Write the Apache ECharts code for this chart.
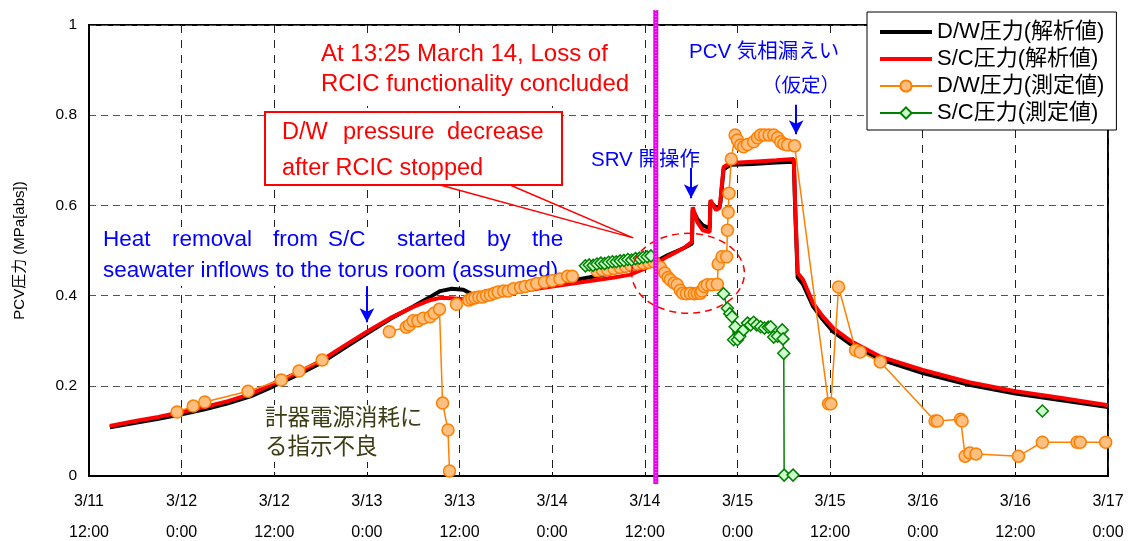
<!DOCTYPE html>
<html>
<head>
<meta charset="utf-8">
<script src="https://cdn.jsdelivr.net/npm/echarts/dist/echarts.min.js"></script>
<style>
html, body { margin: 0; padding: 0; background: #fff; }
#pcvChart { width: 1132px; height: 541px; }
</style>
</head>
<body>
<div id="pcvChart"></div>
<script>
// hours since 3/11 12:00
const dateLabels = ['3/11', '3/12', '3/12', '3/13', '3/13', '3/14', '3/14', '3/15', '3/15', '3/16', '3/16', '3/17']
const timeLabels = ['12:00', '0:00', '12:00', '0:00', '12:00', '0:00', '12:00', '0:00', '12:00', '0:00', '12:00', '0:00']

// D/W圧力(解析値)
const dwCalc = [
  [2.7, 0.108], [6, 0.118], [9, 0.127], [12, 0.137], [15, 0.148], [18, 0.161], [21, 0.177],
  [24, 0.2], [27, 0.224], [30, 0.25], [33, 0.283], [36, 0.316], [39, 0.348], [42, 0.376],
  [44, 0.395], [45.5, 0.41], [47, 0.415], [48.5, 0.413], [49.5, 0.404], [50.5, 0.4], [52, 0.404],
  [54, 0.41], [56, 0.415], [58, 0.42], [60, 0.425], [62, 0.432], [64, 0.438], [66, 0.444],
  [68, 0.451], [70, 0.457], [72, 0.466], [73.5, 0.476], [75, 0.49], [77, 0.505], [78.1, 0.515],
  [78.2, 0.59], [78.8, 0.57], [79.5, 0.556], [80.4, 0.549], [80.5, 0.608], [81.2, 0.595],
  [81.7, 0.598], [81.8, 0.608], [82.2, 0.68], [83.1, 0.69], [86, 0.692], [89, 0.695], [91.3, 0.697],
  [91.5, 0.58], [91.8, 0.44], [92.5, 0.425], [93.8, 0.376], [95, 0.348], [96.4, 0.32],
  [98.6, 0.293], [102.6, 0.258], [108, 0.228], [114, 0.202], [120, 0.183], [126, 0.168], [132, 0.153]
]

// S/C圧力(解析値)
const scCalc = [
  [2.7, 0.111], [6, 0.122], [9, 0.131], [12, 0.142], [15, 0.153], [18, 0.166], [21, 0.182],
  [24, 0.206], [27, 0.229], [30, 0.255], [33, 0.288], [36, 0.32], [39, 0.35], [42, 0.375],
  [44, 0.389], [45.5, 0.395], [47, 0.394], [48.5, 0.392], [50, 0.393], [52, 0.398], [54, 0.405],
  [56, 0.41], [58, 0.415], [60, 0.42], [62, 0.425], [64, 0.43], [66, 0.435], [68, 0.44],
  [70, 0.446], [72, 0.46], [73.5, 0.472], [75, 0.487], [77, 0.505], [78.1, 0.519], [78.2, 0.596],
  [78.8, 0.563], [79.5, 0.545], [80.4, 0.541], [80.5, 0.612], [81.2, 0.59], [81.7, 0.595],
  [81.8, 0.612], [82.2, 0.685], [83.1, 0.694], [86, 0.697], [89, 0.7], [91.3, 0.703],
  [91.5, 0.59], [91.8, 0.45], [92.5, 0.435], [93.8, 0.383], [95, 0.355], [96.4, 0.328],
  [98.6, 0.3], [102.6, 0.264], [108, 0.235], [114, 0.208], [120, 0.188], [126, 0.173], [132, 0.157]
]

// D/W圧力(測定値)  (null = gap in the record)
const dwMeas = [
  [11.4, 0.142], [13.5, 0.155], [15.0, 0.164], [20.6, 0.188], [24.9, 0.213], [27.2, 0.233], [30.2, 0.257], null,
  [38.9, 0.32], [41.1, 0.33], [41.5, 0.335], [42.0, 0.344], [42.6, 0.344], [43.3, 0.35], [44.2, 0.353],
  [44.7, 0.361], [45.4, 0.37], [45.8, 0.162], [46.5, 0.102], [46.7, 0.011], null,
  [47.6, 0.381], null,
  [49.2, 0.39], [49.6, 0.393], [50, 0.395], [50.5, 0.397], [51, 0.397], [51.5, 0.4], [52, 0.402],
  [52.5, 0.405], [53, 0.408], [53.7, 0.41], [54.3, 0.41], [55, 0.415], [55.9, 0.418], [56.5, 0.42],
  [57.3, 0.423], [58, 0.427], [59, 0.43], [60, 0.433], [61, 0.437], [62, 0.443], [62.6, 0.443], null,
  [65.8, 0.455], [66.5, 0.457], [67.2, 0.458], [68, 0.46], [68.8, 0.463], [69.5, 0.465], [70.2, 0.468],
  [71, 0.47], [71.8, 0.472], [72.5, 0.474], [73.2, 0.475], [74, 0.463], [74.6, 0.45], [75.0, 0.44],
  [75.3, 0.435], [75.8, 0.428], [76.2, 0.424], [76.6, 0.412], [76.9, 0.405], [77.4, 0.404],
  [77.9, 0.405], [78.4, 0.404], [78.8, 0.405], [79.2, 0.405], [79.4, 0.41], [79.7, 0.42], [80.1, 0.424],
  [80.7, 0.424], [81.4, 0.425], [81.5, 0.47], [82, 0.486], [82.6, 0.486], [82.7, 0.545], [82.8, 0.585],
  [82.9, 0.627], [83.2, 0.703], [83.7, 0.756], [84.0, 0.745], [84.4, 0.734], [84.8, 0.73], [85.3, 0.735],
  [86.1, 0.741], [86.6, 0.75], [87, 0.756], [87.5, 0.756], [88.1, 0.756], [88.7, 0.756], [89.2, 0.75],
  [89.6, 0.741], [90.0, 0.736], [90.5, 0.734], [91.4, 0.732], [95.8, 0.16], [96.1, 0.16], [97.1, 0.419],
  [99.3, 0.279], [99.9, 0.275], [102.5, 0.253], [109.6, 0.122], [109.9, 0.122], [112.9, 0.126],
  [113.1, 0.122], [113.5, 0.044], [114.1, 0.051], [114.9, 0.049], [120.4, 0.044], [123.5, 0.075],
  [128, 0.075], [128.4, 0.075], [131.7, 0.075]
]

// S/C圧力(測定値)
const scMeas = [
  [64.3, 0.466], [64.8, 0.468], [65.3, 0.467], [65.8, 0.47], [66.3, 0.472], [66.8, 0.471], [67.3, 0.474],
  [67.8, 0.475], [68.3, 0.475], [68.8, 0.477], [69.3, 0.478], [69.8, 0.48], [70.3, 0.479], [70.8, 0.482],
  [71.3, 0.483], [71.8, 0.485], [72.3, 0.486], [72.8, 0.488], null,
  [82.2, 0.404], [82.7, 0.372], [83.0, 0.36], [83.3, 0.353], [83.5, 0.302], [83.7, 0.331], [84.0, 0.302],
  [84.3, 0.31], [84.8, 0.324], [85.3, 0.339], [85.7, 0.335], [86.1, 0.341], [86.5, 0.335], [87, 0.331],
  [87.5, 0.328], [88, 0.33], [88.3, 0.331], [88.7, 0.308], [89.2, 0.31], [89.8, 0.324], [89.9, 0.304],
  [90, 0.272], [90.05, 0.002], [91.2, 0.002], null,
  [123.5, 0.144]
]

// annotations, in data units
const rcicLossHour = 73.42
const arrows = [
  [36.0, 0.421, 0.341],   // heat removal
  [78.0, 0.683, 0.616],   // SRV 開操作
  [91.6, 0.823, 0.758]    // PCV 気相漏えい
]
const ellipseHours = [70.3, 84.9]
const ellipseValues = [0.361, 0.538]
const calloutTip = [70.5, 0.528]

const FONT = "'Liberation Sans','Noto Sans CJK JP',sans-serif"

let chart = echarts.init(document.getElementById('pcvChart'))

let option = {
  animation: false,
  textStyle: { fontFamily: FONT },
  grid: {
    left: 89, right: 24, top: 25, bottom: 65,
    show: true, borderColor: '#000', borderWidth: 2,
    outerBoundsMode: 'none'
  },
  legend: {
    left: 867, top: 12,
    orient: 'vertical',
    padding: [9, 12, 6, 11],
    itemGap: 5,
    itemWidth: 52,
    itemHeight: 14,
    backgroundColor: '#fff',
    borderColor: '#000',
    borderWidth: 1,
    textStyle: { fontSize: 22, color: '#000', fontFamily: FONT },
    data: [
      { name: 'D/W圧力(解析値)', itemStyle: { opacity: 0 }, lineStyle: { width: 4 } },
      { name: 'S/C圧力(解析値)', itemStyle: { opacity: 0 }, lineStyle: { width: 4 } },
      { name: 'D/W圧力(測定値)' },
      { name: 'S/C圧力(測定値)' }
    ]
  },
  xAxis: {
    type: 'value',
    min: 0, max: 132, interval: 12,
    axisLine: { show: true, lineStyle: { color: '#000', width: 2 } },
    axisTick: { show: true, inside: true, length: 4, lineStyle: { color: '#000' } },
    axisLabel: {
      showMinLabel: true, showMaxLabel: true, hideOverlap: false,
      margin: 10, fontSize: 16, lineHeight: 31, color: '#000',
      formatter: v => {
        let i = Math.round(v / 12)
        return dateLabels[i] + '\n' + timeLabels[i]
      }
    },
    splitLine: { show: true, lineStyle: { color: '#222', width: 1, type: [8, 7] } }
  },
  yAxis: {
    type: 'value',
    min: 0, max: 1, interval: 0.2,
    name: 'PCV圧力 (MPa[abs])',
    nameLocation: 'middle',
    nameGap: 62,
    nameRotate: 90,
    nameTextStyle: { fontSize: 15, color: '#000' },
    axisLine: { show: true, lineStyle: { color: '#000', width: 2 } },
    axisTick: { show: false },
    axisLabel: { margin: 12, fontSize: 15.5, color: '#000' },
    splitLine: { show: true, lineStyle: { color: '#555', width: 1, type: [7, 5] } }
  },
  series: [
    {
      name: 'D/W圧力(解析値)',
      type: 'line',
      data: dwCalc,
      symbol: 'none',
      color: '#000',
      lineStyle: { color: '#000', width: 4 },
      z: 2
    },
    {
      name: 'S/C圧力(解析値)',
      type: 'line',
      data: scCalc,
      symbol: 'none',
      color: '#ff0000',
      lineStyle: { color: '#ff0000', width: 4 },
      z: 3
    },
    {
      name: 'D/W圧力(測定値)',
      type: 'line',
      data: dwMeas,
      connectNulls: false,
      symbol: 'circle',
      symbolSize: 12,
      showAllSymbol: true,
      color: '#ffbf80',
      itemStyle: { color: '#ffbf80', borderColor: '#ff7f00', borderWidth: 1.5 },
      lineStyle: { color: '#ff7f00', width: 1.5 },
      z: 4
    },
    {
      name: 'S/C圧力(測定値)',
      type: 'line',
      data: scMeas,
      connectNulls: false,
      symbol: 'diamond',
      symbolSize: 12,
      showAllSymbol: true,
      color: '#ccffcc',
      itemStyle: { color: '#ccffcc', borderColor: '#008000', borderWidth: 1.5 },
      lineStyle: { color: '#008000', width: 1.5 },
      z: 4
    },
    {
      name: 'arrows',
      type: 'line',
      data: [],
      z: 6,
      markLine: {
        silent: true,
        symbol: ['none', 'arrow'],
        symbolSize: [11, 14],
        label: { show: false },
        lineStyle: { color: '#0000ff', width: 2, type: 'solid' },
        data: arrows.map(a => [{ coord: [a[0], a[1]] }, { coord: [a[0], a[2]] }])
      }
    }
  ]
}
chart.setOption(option)

function px(h, v) {
  return chart.convertToPixel({ gridIndex: 0 }, [h, v])
}

function label(text, x, y, size, color) {
  return {
    type: 'text', x: x, y: y, z: 1, silent: true,
    style: { text: text, font: size + 'px ' + FONT, fill: color, align: 'left', verticalAlign: 'middle' }
  }
}

function whiteBox(x1, y1, x2, y2) {
  return { type: 'rect', z: 1, silent: true, shape: { x: x1, y: y1, width: x2 - x1, height: y2 - y1 }, style: { fill: '#fff' } }
}

let magTop = px(rcicLossHour, 1.033)
let magBottom = px(rcicLossHour, -0.018)
let eA = px(ellipseHours[0], ellipseValues[0])
let eB = px(ellipseHours[1], ellipseValues[1])
let tip = px(calloutTip[0], calloutTip[1])

let RED = '#ff0000', BLUE = '#0000ff', OLIVE = '#3d3d14'

let graphic = [
  // RCIC text
  whiteBox(312, 37, 636, 106),
  label('At 13:25 March 14, Loss of', 321, 54, 24, RED),
  label('RCIC functionality concluded', 321, 84, 24, RED),

  // callout
  {
    type: 'polyline', z: 1, silent: true,
    shape: { points: [[440, 185], tip, [510, 185]] },
    style: { stroke: RED, lineWidth: 1.5, fill: null }
  },
  {
    type: 'rect', z: 1, silent: true,
    shape: { x: 265, y: 112, width: 297, height: 73 },
    style: { fill: '#fff', stroke: RED, lineWidth: 2 }
  },
  label('D/W', 282, 133, 23.5, RED),
  label('pressure', 343, 133, 23.5, RED),
  label('decrease', 447, 133, 23.5, RED),
  label('after RCIC stopped', 282, 169, 23.5, RED),

  // heat removal text
  whiteBox(98, 227, 566, 286),
  label('Heat', 103, 240, 22.5, BLUE),
  label('removal', 172, 240, 22.5, BLUE),
  label('from', 273, 240, 22.5, BLUE),
  label('S/C', 328, 240, 22.5, BLUE),
  label('started', 397, 240, 22.5, BLUE),
  label('by', 487, 240, 22.5, BLUE),
  label('the', 532, 240, 22.5, BLUE),
  label('seawater inflows to the torus room (assumed)', 103, 271, 22.5, BLUE),

  // instrument text
  whiteBox(262, 405, 430, 462),
  label('計器電源消耗に', 265, 419, 22.5, OLIVE),
  label('る指示不良', 265, 448, 22.5, OLIVE),

  // SRV
  whiteBox(587, 148, 703, 172),
  label('SRV 開操作', 591, 160, 20.5, BLUE),

  // PCV leak
  whiteBox(684, 38, 844, 99),
  label('PCV 気相漏えい', 689, 52, 20.5, BLUE),
  label('（仮定）', 762, 87, 19.5, BLUE),

  // dashed ellipse
  {
    type: 'ellipse', z: 10, silent: true,
    shape: { cx: (eA[0] + eB[0]) / 2, cy: (eA[1] + eB[1]) / 2, rx: Math.abs(eB[0] - eA[0]) / 2, ry: Math.abs(eB[1] - eA[1]) / 2 },
    style: { fill: null, stroke: RED, lineWidth: 1.5, lineDash: [7, 5] }
  },

  // RCIC loss vertical line
  {
    type: 'line', z: 10, silent: true,
    shape: { x1: magTop[0], y1: magTop[1], x2: magBottom[0], y2: magBottom[1] },
    style: { stroke: '#ee00ee', lineWidth: 5 }
  },
  {
    type: 'line', z: 11, silent: true,
    shape: { x1: magTop[0], y1: magTop[1], x2: magBottom[0], y2: magBottom[1] },
    style: { stroke: '#ff99ff', lineWidth: 1.5, lineDash: [1, 2] }
  }
]

chart.setOption({ graphic: graphic })

window.addEventListener('resize', () => {
  chart.resize()
})
</script>
</body>
</html>
